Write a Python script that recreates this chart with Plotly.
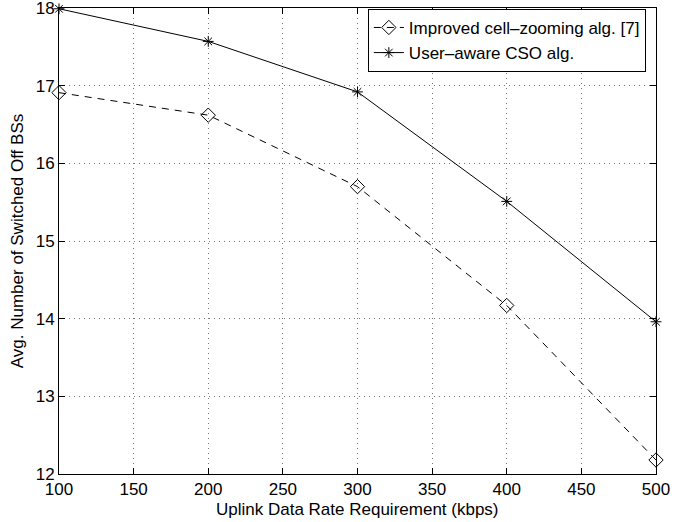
import plotly.graph_objects as go

rates = [100, 200, 300, 400, 500]
improved_cell_zooming = [16.91, 16.62, 15.70, 14.17, 12.18]
user_aware_cso = [17.99, 17.57, 16.92, 15.51, 13.96]
x_ticks = [100, 150, 200, 250, 300, 350, 400, 450, 500]
y_ticks = [12, 13, 14, 15, 16, 17, 18]

FONT = "Liberation Sans, Arial, Helvetica, sans-serif"

fig = go.Figure()
fig.add_trace(go.Scatter(
    x=rates, y=improved_cell_zooming, mode="lines+markers",
    name="Improved cell\u2013zooming alg. [7]",
    line=dict(color="black", width=1, dash="7px,6px"),
    marker=dict(symbol="diamond-open", size=11, color="black", line=dict(width=1, color="black")),
    cliponaxis=False,
))
fig.add_trace(go.Scatter(
    x=rates, y=user_aware_cso, mode="lines+markers",
    name="User\u2013aware CSO alg.",
    line=dict(color="black", width=1),
    marker=dict(symbol="asterisk-open", size=9, color="black", line=dict(width=1, color="black")),
    cliponaxis=False,
))

axis_common = dict(
    showline=True, linecolor="black", linewidth=1, mirror="ticks",
    ticks="inside", ticklen=6, tickcolor="black", tickwidth=1,
    showgrid=True, gridcolor="#777777", gridwidth=1, griddash="1px,4px",
    zeroline=False, tickfont=dict(family=FONT, size=17, color="black"),
    automargin=False, ticklabeloverflow="allow",
)

fig.update_xaxes(range=[100, 500], tickvals=x_ticks, ticktext=[str(v) for v in x_ticks],
                 **axis_common)
fig.update_yaxes(range=[12, 18], tickvals=y_ticks, ticktext=[str(v) for v in y_ticks],
                 title=dict(text="Avg. Number of Switched Off BSs",
                            font=dict(family=FONT, size=17, color="black"), standoff=7),
                 **axis_common)

fig.add_annotation(text="Uplink Data Rate Requirement (kbps)", xref="paper", yref="paper",
                   x=0.5, y=0, xanchor="center", yanchor="middle", yshift=-35,
                   showarrow=False, font=dict(family=FONT, size=17, color="black"))

fig.update_layout(
    width=694, height=522,
    margin=dict(l=59, r=38, t=8, b=48),
    paper_bgcolor="white", plot_bgcolor="white",
    font=dict(family=FONT, size=17, color="black"),
    legend=dict(x=0.983, y=0.998, xanchor="right", yanchor="top",
                bgcolor="white", bordercolor="black", borderwidth=1,
                font=dict(family=FONT, size=17, color="black"),
                itemwidth=30, tracegroupgap=0),
    showlegend=True,
)

fig.write_html("out.html", config={"displayModeBar": False},
               post_script="document.body.style.margin='0';")
